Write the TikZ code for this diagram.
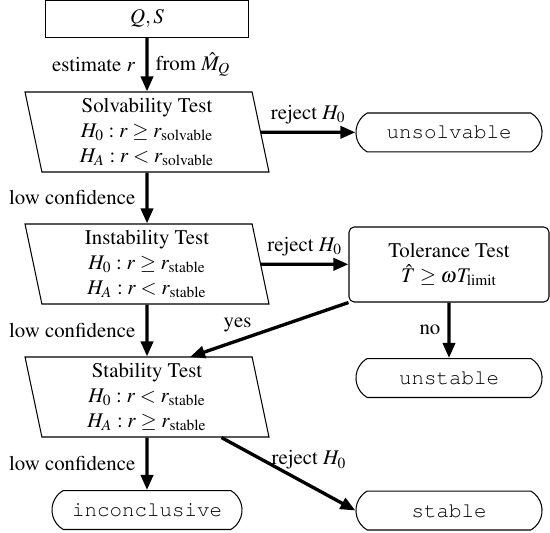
\documentclass[tikz,border=0pt]{standalone}
\usepackage[T1]{fontenc}
\usepackage{mathptmx}
\renewcommand{\ttdefault}{pcr}
\usetikzlibrary{shapes.geometric,shapes.misc,arrows.meta}
\begin{document}
\begin{tikzpicture}[x=0.48pt,y=-0.48pt,
  procbox/.style={draw, line width=0.5pt, rectangle, minimum width=97.4pt, minimum height=17.8pt},
  testbox/.style={draw, line width=0.5pt, trapezium, trapezium left angle=104, trapezium right angle=76,
    trapezium stretches body, minimum width=117.1pt, minimum height=38.4pt, align=center, inner ysep=0pt},
  termbox/.style={draw, line width=0.5pt, rounded rectangle, rounded rectangle arc length=120,
    minimum width=96pt, minimum height=18.7pt, font=\ttfamily},
  tolbox/.style={draw, line width=0.5pt, rectangle, rounded corners=2.5pt, minimum width=96pt,
    minimum height=36pt, align=center},
  arr/.style={line width=1.6pt, -{Triangle[length=7.2pt,width=5.8pt]}}
]
\useasboundingbox (0,0) rectangle (550,533);

\node[procbox] (qs) at (147,19) {$Q,S$};
\node[testbox] (solv) at (147,132) {Solvability Test\\ $H_0 : r \geq r_{\mathrm{solvable}}$\\ $H_A : r < r_{\mathrm{solvable}}$};
\node[termbox] (unsolv) at (449,132.5) {unsolvable};
\node[testbox] (inst) at (147,264) {Instability Test\\ $H_0 : r \geq r_{\mathrm{stable}}$\\ $H_A : r < r_{\mathrm{stable}}$};
\node[tolbox] (tol) at (449,264.5) {Tolerance Test\\ $\hat{T} \geq \omega T_{\mathrm{limit}}$};
\node[testbox] (stab) at (147,397) {Stability Test\\ $H_0 : r < r_{\mathrm{stable}}$\\ $H_A : r \geq r_{\mathrm{stable}}$};
\node[termbox] (unstab) at (449,378) {unstable};
\node[termbox, minimum width=97.9pt] (inc) at (147,510) {inconclusive};
\node[termbox] (stable) at (449,510.5) {stable};
\coordinate (yesend) at (190,357);

\draw[arr] (qs) -- (solv) node[midway,left=1.5pt]{estimate $r$} node[midway,right]{from $\hat{M}_Q$};
\draw[arr] (solv) -- (unsolv) node[midway,above]{reject $H_0$};
\draw[arr] (solv) -- (inst) node[midway,left=1.5pt]{low confidence};
\draw[arr] (inst) -- (tol) node[midway,above]{reject $H_0$};
\draw[arr] (inst) -- (stab) node[midway,left=1.5pt]{low confidence};
\draw[arr] (tol) -- (unstab) node[midway,left]{no};
\draw[arr] (tol.south west) -- (yesend) node[pos=0.7,above]{yes};
\draw[arr] (stab) -- (inc) node[midway,left=1.5pt]{low confidence};
\draw[arr] (stab) -- (stable.west) node[pos=0.31,right]{reject $H_0$};
\end{tikzpicture}
\end{document}
